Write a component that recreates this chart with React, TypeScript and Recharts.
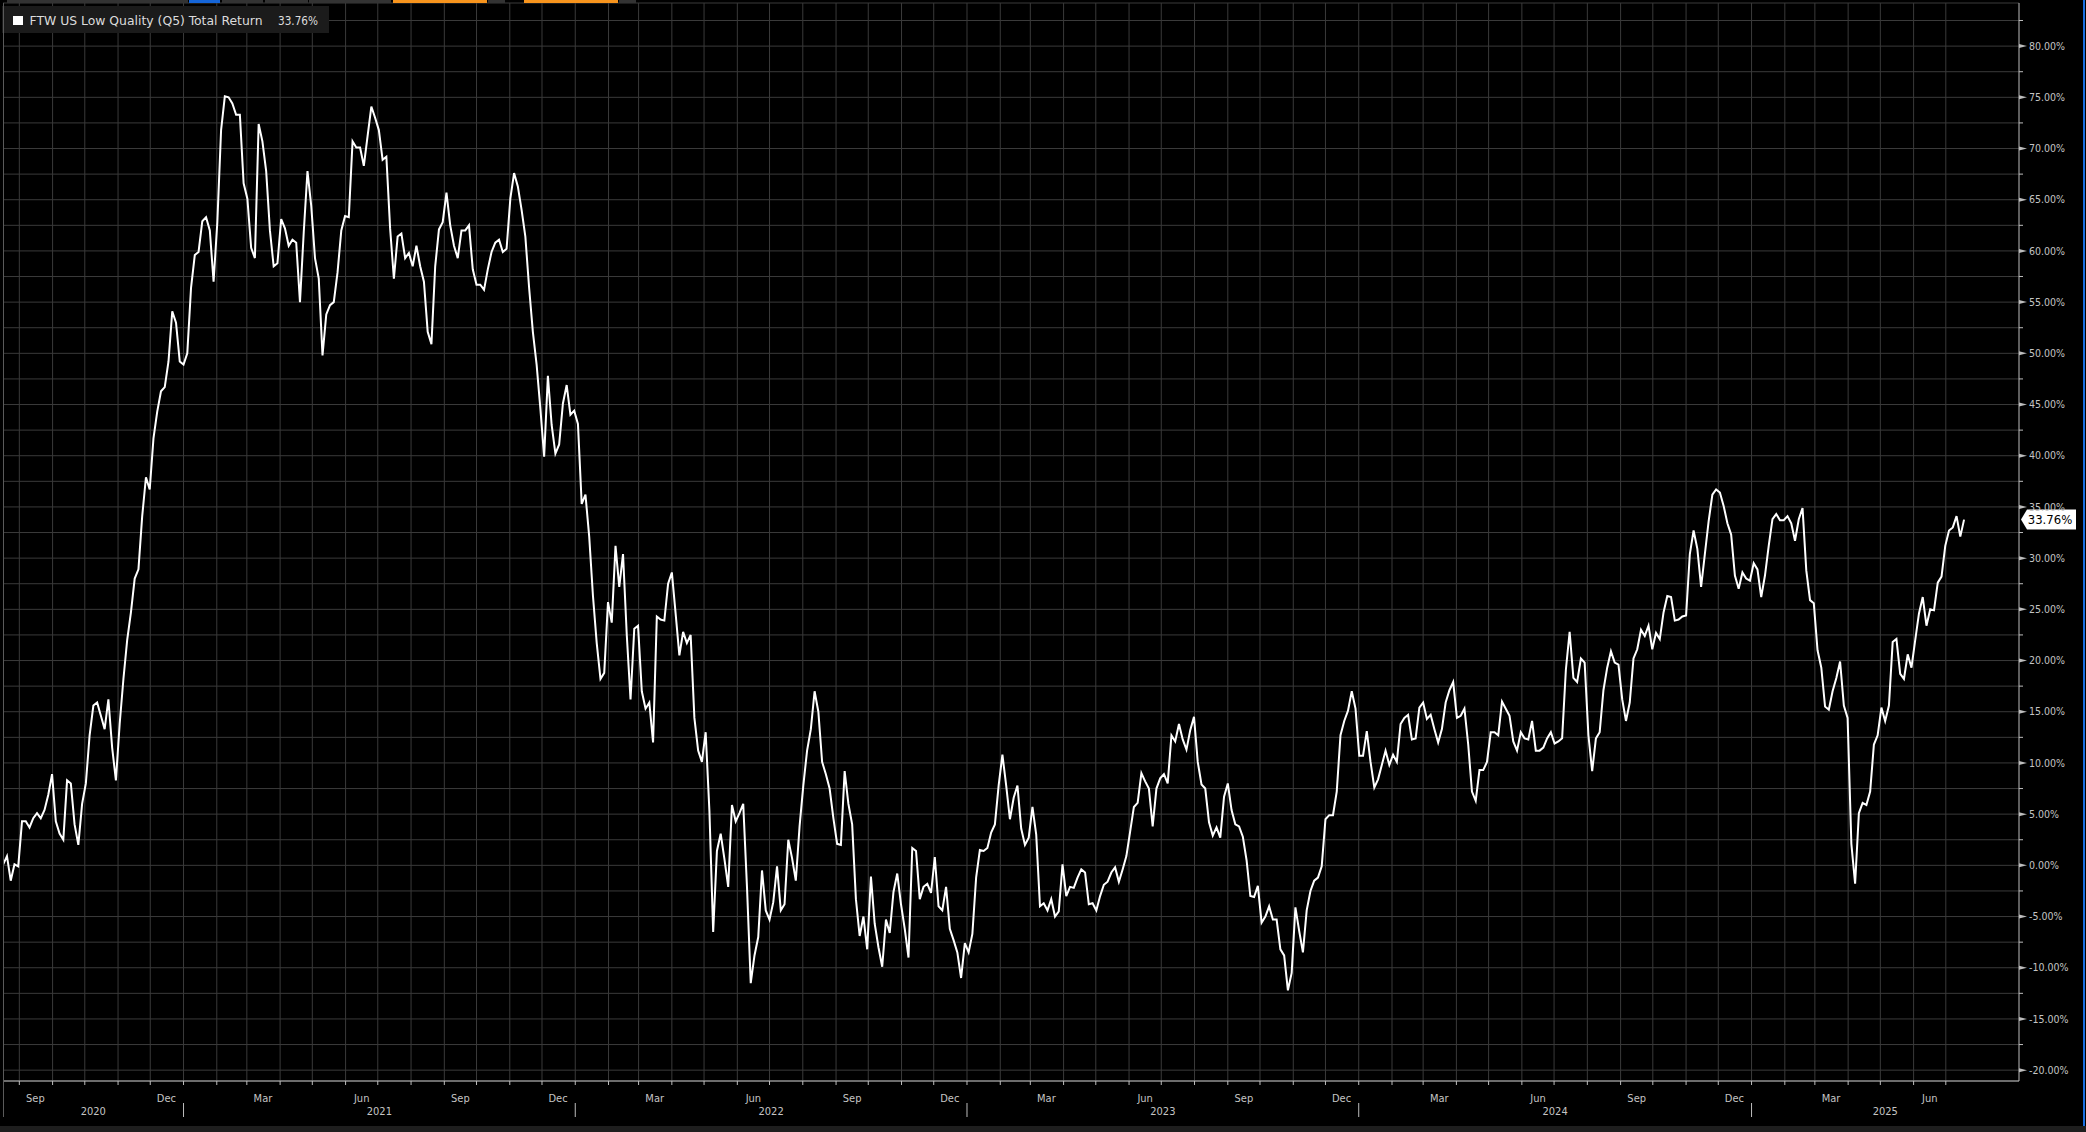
import React from 'react';
import {
  LineChart,
  Line,
  XAxis,
  YAxis,
  CartesianGrid,
  ReferenceDot,
} from 'recharts';

const W = 2086;
const H = 1132;
const FONT =
  '"Liberation Sans Narrow", "DejaVu Sans Condensed", "Roboto Condensed", sans-serif';
const GRID = '#3a3a3a';
const AXIS = '#bdbdbd';
const LABEL = '#c4c4c4';

const SERIES_NAME = 'FTW US Low Quality (Q5) Total Return';
const LAST_LABEL = '33.76%';

// total return in %, sampled every 3.5 days, first point 17 Jul 2020
const returns2020 = [
  0.1, 0.9, -1.5, 0.1, -0.1, 4.3, 4.3, 3.7, 4.6, 5.1,
  4.6, 5.4, 6.9, 8.9, 4.3, 3.1, 2.5, 8.3, 8.0, 4.0,
  2.0, 6.0, 8.0, 12.7, 15.6, 15.9, 14.6, 13.3, 16.2, 11.5,
  8.3, 13.8, 18.2, 22.0, 24.7, 28.0, 28.9, 34.1, 37.9, 36.7,
  41.7, 44.3, 46.3, 46.7, 49.2, 54.1, 53.0, 49.2,
];
const returns2021 = [
  48.9, 50.0, 56.4, 59.6, 59.9, 62.9, 63.3, 62.0, 57.0, 62.8,
  71.8, 75.1, 75.0, 74.4, 73.3, 73.3, 66.6, 65.1, 60.3, 59.3,
  72.4, 70.7, 67.8, 62.0, 58.5, 58.8, 63.1, 62.2, 60.5, 61.1,
  60.8, 55.0, 61.8, 67.8, 64.4, 59.3, 57.3, 49.8, 53.8, 54.7,
  55.0, 57.9, 62.0, 63.4, 63.3, 70.7, 70.1, 70.1, 68.3, 71.2,
  74.1, 73.0, 71.8, 68.9, 69.2, 62.2, 57.3, 61.4, 61.7, 59.3,
  59.8, 58.5, 60.5, 58.5, 57.0, 52.1, 50.9, 58.5, 62.1, 62.8,
  65.7, 62.5, 60.5, 59.3, 62.0, 62.0, 62.5, 58.2, 56.7, 56.7,
  56.2, 58.2, 59.9, 60.8, 61.1, 59.9, 60.2, 65.1, 67.6, 66.3,
  64.0, 61.4, 56.4, 52.1, 48.9, 44.6, 39.9, 47.8, 43.0, 40.2,
  41.1, 45.1, 46.9, 44.0, 44.4,
];
const returns2022 = [
  43.1, 35.3, 36.2, 32.1, 26.3, 21.7, 18.2, 18.8, 25.7, 23.7,
  31.2, 27.2, 30.4, 22.5, 16.2, 23.1, 23.4, 17.0, 15.3, 15.9,
  12.0, 24.3, 24.0, 23.9, 27.5, 28.6, 24.6, 20.5, 22.8, 21.7,
  22.5, 14.4, 11.2, 10.1, 13.0, 5.3, -6.5, 1.4, 3.1, 0.6,
  -2.1, 5.9, 4.3, 5.1, 6.0, -2.1, -11.5, -8.8, -7.0, -0.5,
  -4.4, -5.3, -3.6, -0.1, -4.4, -3.8, 2.5, 0.7, -1.5, 3.8,
  7.8, 11.2, 13.3, 17.0, 15.0, 10.1, 8.9, 7.5, 4.6, 2.1,
  2.0, 9.2, 6.0, 4.0, -3.3, -6.9, -5.0, -8.2, -1.1, -5.7,
  -8.0, -9.9, -5.3, -6.6, -2.6, -0.8, -3.8, -6.2, -9.0, 1.7,
  1.4, -3.3, -2.1, -1.8, -2.7, 0.8, -4.0, -4.4, -2.1, -6.2,
  -7.3, -8.5, -11.0, -7.6,
];
const returns2023 = [
  -8.5, -6.7, -1.2, 1.5, 1.4, 1.7, 3.2, 4.0, 7.8, 10.8,
  7.8, 4.5, 6.6, 7.8, 3.6, 2.0, 2.7, 5.7, 3.0, -4.0,
  -3.7, -4.4, -3.3, -5.0, -4.5, 0.1, -3.0, -2.1, -2.2, -1.2,
  -0.4, -0.7, -3.8, -3.7, -4.4, -3.0, -1.9, -1.6, -0.7, -0.2,
  -1.6, -0.4, 0.9, 3.3, 5.7, 6.1, 9.0, 8.2, 7.5, 3.8,
  7.5, 8.5, 8.9, 8.0, 12.7, 12.1, 13.8, 12.3, 11.3, 13.2,
  14.5, 10.1, 7.9, 7.5, 4.2, 2.9, 3.7, 2.7, 6.7, 8.0,
  5.4, 4.0, 3.8, 2.8, 0.5, -3.0, -3.1, -2.0, -5.6, -5.0,
  -4.0, -5.3, -5.3, -8.2, -8.8, -12.2, -10.5, -4.1, -6.4, -8.5,
  -4.4, -2.5, -1.5, -1.2, -0.1, 4.5, 4.9, 4.9, 7.2, 12.7,
  14.1, 15.1, 17.0, 15.3,
];
const returns2024 = [
  10.7, 10.7, 13.1, 10.1, 7.6, 8.4, 9.8, 11.2, 9.8, 10.8,
  10.1, 13.8, 14.4, 14.7, 12.3, 12.4, 15.4, 15.9, 14.3, 14.7,
  13.3, 12.0, 13.3, 15.9, 17.1, 17.9, 14.4, 14.6, 15.3, 11.8,
  7.2, 6.3, 9.3, 9.3, 10.1, 13.0, 13.0, 12.7, 16.0, 15.3,
  14.6, 12.1, 11.2, 13.0, 12.4, 12.3, 14.1, 11.2, 11.2, 11.5,
  12.4, 13.0, 11.9, 12.1, 12.4, 19.1, 22.8, 18.3, 17.9, 20.2,
  19.8, 12.7, 9.2, 12.4, 13.0, 17.1, 19.3, 20.9, 19.8, 19.6,
  16.2, 14.1, 15.9, 20.2, 21.1, 23.0, 22.4, 23.4, 21.1, 22.7,
  22.1, 24.7, 26.3, 26.2, 23.9, 24.0, 24.3, 24.4, 30.4, 32.7,
  30.9, 27.2, 30.4, 33.6, 36.2, 36.7, 36.4, 35.1, 33.4, 32.3,
  28.3, 27.0, 28.6, 28.0, 27.8,
];
const returns2025 = [
  29.5, 28.9, 26.2, 28.3, 31.2, 33.8, 34.3, 33.7, 33.7, 34.1,
  33.4, 31.7, 33.8, 34.9, 28.8, 25.9, 25.6, 21.0, 19.3, 15.5,
  15.2, 17.0, 18.3, 19.9, 15.6, 14.4, 2.1, -1.8, 5.1, 6.1,
  5.9, 7.2, 11.8, 12.7, 15.4, 14.1, 15.6, 21.8, 22.1, 18.7,
  18.2, 20.6, 19.3, 22.0, 24.6, 26.2, 23.4, 25.0, 24.9, 27.6,
  28.2, 31.2, 32.7, 33.0, 34.1, 32.1, 33.76,
];

const returns = [
  ...returns2020,
  ...returns2021,
  ...returns2022,
  ...returns2023,
  ...returns2024,
  ...returns2025,
];

// x axis works in days since 1 Jan 2020
const dayOf = (y: number, m: number, d: number) =>
  (Date.UTC(y, m - 1, d) - Date.UTC(2020, 0, 1)) / 86400000;

const FIRST_DAY = dayOf(2020, 7, 17);
const STEP_DAYS = 3.5;
const X_DOMAIN: [number, number] = [197.8, 2076.2];
const Y_DOMAIN: [number, number] = [-21.06, 84.21];

const data = returns.map((v, i) => ({ day: FIRST_DAY + STEP_DAYS * i, ret: v }));

const yTicks = [
  -20, -17.5, -15, -12.5, -10, -7.5, -5, -2.5, 0, 2.5, 5, 7.5, 10, 12.5, 15,
  17.5, 20, 22.5, 25, 27.5, 30, 32.5, 35, 37.5, 40, 42.5, 45, 47.5, 50, 52.5,
  55, 57.5, 60, 62.5, 65, 67.5, 70, 72.5, 75, 77.5, 80, 82.5,
];

// month gridlines Aug 2020 .. Jul 2025
const monthStarts: number[] = [];
for (let k = 0; k < 60; k++) {
  const y = 2020 + Math.floor((7 + k) / 12);
  const m = ((7 + k) % 12) + 1;
  monthStarts.push(dayOf(y, m, 1));
}

const monthLabels = [
  'Sep', 'Dec', 'Mar', 'Jun', 'Sep', 'Dec', 'Mar', 'Jun', 'Sep', 'Dec',
  'Mar', 'Jun', 'Sep', 'Dec', 'Mar', 'Jun', 'Sep', 'Dec', 'Mar', 'Jun',
];
const monthLabelAt = [
  dayOf(2020, 8, 16), dayOf(2020, 12, 16),
  dayOf(2021, 3, 16), dayOf(2021, 6, 16), dayOf(2021, 9, 16), dayOf(2021, 12, 16),
  dayOf(2022, 3, 16), dayOf(2022, 6, 16), dayOf(2022, 9, 16), dayOf(2022, 12, 16),
  dayOf(2023, 3, 16), dayOf(2023, 6, 16), dayOf(2023, 9, 16), dayOf(2023, 12, 16),
  dayOf(2024, 3, 16), dayOf(2024, 6, 16), dayOf(2024, 9, 16), dayOf(2024, 12, 16),
  dayOf(2025, 3, 16), dayOf(2025, 6, 16),
];

const yearLabels = ['2020', '2021', '2022', '2023', '2024', '2025'];
const yearLabelAt = [
  (X_DOMAIN[0] + dayOf(2021, 1, 1)) / 2,
  (dayOf(2021, 1, 1) + dayOf(2022, 1, 1)) / 2,
  (dayOf(2022, 1, 1) + dayOf(2023, 1, 1)) / 2,
  (dayOf(2023, 1, 1) + dayOf(2024, 1, 1)) / 2,
  (dayOf(2024, 1, 1) + dayOf(2025, 1, 1)) / 2,
  (dayOf(2025, 1, 1) + X_DOMAIN[1]) / 2,
];

type TickInfo = { kind: 'start' | 'month' | 'year'; text?: string; jan?: boolean };
const xTickInfo = new Map<number, TickInfo>();
monthStarts.forEach((d) => {
  const jan = new Date(Date.UTC(2020, 0, 1) + d * 86400000).getUTCMonth() === 0;
  xTickInfo.set(d, { kind: 'start', jan });
});
monthLabelAt.forEach((d, i) => xTickInfo.set(d, { kind: 'month', text: monthLabels[i] }));
yearLabelAt.forEach((d, i) => xTickInfo.set(d, { kind: 'year', text: yearLabels[i] }));
const xTicks = Array.from(xTickInfo.keys()).sort((a, b) => a - b);

const XTick = (props: any) => {
  const { x, y, payload } = props;
  const info = xTickInfo.get(payload.value);
  if (!info) return null;
  if (info.kind === 'start') {
    return (
      <g>
        <line x1={x} x2={x} y1={y} y2={y + 4} stroke={AXIS} />
        {info.jan && <line x1={x} x2={x} y1={y + 22} y2={y + 36} stroke={AXIS} />}
      </g>
    );
  }
  return (
    <text
      x={x}
      y={info.kind === 'month' ? y + 20.5 : y + 34}
      textAnchor="middle"
      fill={LABEL}
      fontSize={11}
      fontFamily={FONT}
    >
      {info.text}
    </text>
  );
};

const YTick = (props: any) => {
  const { x, y, payload } = props;
  const v = payload.value as number;
  const major = Math.abs(v % 5) < 1e-6;
  if (!major) {
    return <line x1={x} x2={x + 4} y1={y} y2={y} stroke={AXIS} />;
  }
  return (
    <g>
      <path d={`M${x},${y - 2} L${x + 8},${y} L${x},${y + 2} Z`} fill={AXIS} />
      <text
        x={x + 10}
        y={y}
        dy="0.35em"
        fill={LABEL}
        fontSize={10.5}
        fontFamily={FONT}
      >
        {`${v.toFixed(2)}%`}
      </text>
    </g>
  );
};

const LastValueTag = (props: any) => {
  const { cx, cy } = props;
  return (
    <g>
      <path
        d={`M${cx + 2},${cy} L${cx + 8},${cy - 10} L${cx + 57},${cy - 10} L${cx + 57},${cy + 10} L${cx + 8},${cy + 10} Z`}
        fill="#ffffff"
      />
      <text
        x={cx + 31}
        y={cy}
        dy="0.36em"
        textAnchor="middle"
        fill="#000000"
        fontSize={13}
        fontFamily={FONT}
      >
        {LAST_LABEL}
      </text>
    </g>
  );
};

// thin tab strip along the top edge
const topTabs = [
  { left: 7, width: 181, color: '#333333' },
  { left: 189, width: 31, color: '#1565d8' },
  { left: 222, width: 41, color: '#333333' },
  { left: 265, width: 43, color: '#333333' },
  { left: 309, width: 82, color: '#333333' },
  { left: 393, width: 94, color: '#f7941d' },
  { left: 488, width: 17, color: '#333333' },
  { left: 524, width: 94, color: '#f7941d' },
  { left: 619, width: 17, color: '#333333' },
];

export default function App() {
  return (
    <div
      style={{
        position: 'absolute',
        left: 0,
        top: 0,
        width: W,
        height: H,
        background: '#000000',
        overflow: 'hidden',
      }}
    >
      <LineChart
        width={W}
        height={H}
        data={data}
        margin={{ top: 3, right: 0, bottom: 0, left: 3 }}
      >
        <CartesianGrid
          stroke={GRID}
          verticalCoordinatesGenerator={(p: any) => {
            const s = p?.xAxis?.scale;
            if (typeof s === 'function') return monthStarts.map((d) => s(d));
            const o = p.offset;
            return monthStarts.map(
              (d) => o.left + ((d - X_DOMAIN[0]) / (X_DOMAIN[1] - X_DOMAIN[0])) * o.width,
            );
          }}
        />
        <XAxis
          dataKey="day"
          type="number"
          domain={X_DOMAIN}
          allowDataOverflow
          ticks={xTicks}
          interval={0}
          height={51}
          tickSize={0}
          tickMargin={0}
          tickLine={false}
          axisLine={{ stroke: AXIS }}
          tick={<XTick />}
        />
        <YAxis
          orientation="right"
          type="number"
          domain={Y_DOMAIN}
          allowDataOverflow
          ticks={yTicks}
          interval={0}
          width={67}
          tickSize={0}
          tickMargin={0}
          tickLine={false}
          axisLine={{ stroke: AXIS }}
          tick={<YTick />}
        />
        <Line
          type="linear"
          dataKey="ret"
          stroke="#ffffff"
          strokeWidth={2}
          dot={false}
          activeDot={false}
          isAnimationActive={false}
        />
        <ReferenceDot
          x={X_DOMAIN[1]}
          y={returns[returns.length - 1]}
          r={0}
          ifOverflow="visible"
          shape={<LastValueTag />}
        />
      </LineChart>

      {/* legend */}
      <svg
        width={327}
        height={27}
        style={{ position: 'absolute', left: 2, top: 6 }}
      >
        <rect x={0} y={0} width={327} height={27} fill="#1b1b1b" />
        <rect x={11} y={10} width={10} height={9} fill="#ffffff" />
        <text
          x={27.5}
          y={19}
          fill="#dcdcdc"
          fontSize={13}
          fontFamily={FONT}
          textLength={233}
          lengthAdjust="spacingAndGlyphs"
        >
          {SERIES_NAME}
        </text>
        <text
          x={276}
          y={19}
          fill="#dcdcdc"
          fontSize={13}
          fontFamily={FONT}
          textLength={40}
          lengthAdjust="spacingAndGlyphs"
        >
          {LAST_LABEL}
        </text>
      </svg>

      {topTabs.map((t, i) => (
        <div
          key={i}
          style={{
            position: 'absolute',
            top: 0,
            left: t.left,
            width: t.width,
            height: 3,
            background: t.color,
          }}
        />
      ))}
      <div
        style={{ position: 'absolute', left: 3, top: 3, width: 1, height: 1114, background: '#5a5a5a' }}
      />
      <div
        style={{ position: 'absolute', left: 2083, top: 0, width: 2, height: 1126, background: '#1a6fe0' }}
      />
      <div
        style={{ position: 'absolute', left: 0, top: 1126, width: W, height: 6, background: '#1e1e1e' }}
      />
    </div>
  );
}
